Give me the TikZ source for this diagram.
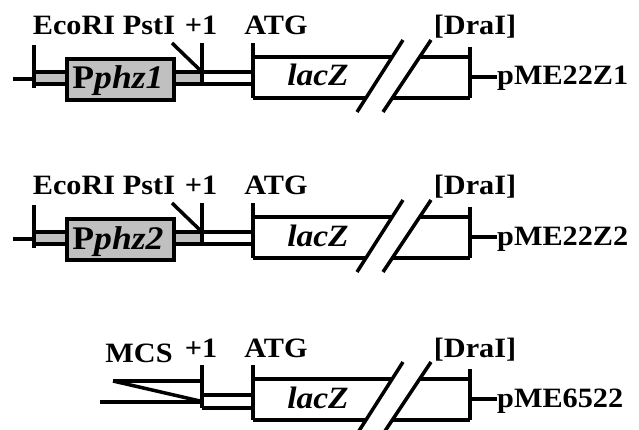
\documentclass[tikz,border=0pt]{standalone}
\usepackage{fontspec}
\setmainfont[FakeStretch=1.08]{Liberation Serif}
\newcommand\lacZpart[1]{%
  \coordinate (atgtop) at (253,43);
  \coordinate (atgbot) at (253,98);
  \coordinate (ztl) at (253,57);
  \coordinate (t1) at (391,57);
  \coordinate (b1) at (367,98);
  \coordinate (t2) at (420,57);
  \coordinate (b2) at (392,98);
  \coordinate (drtop) at (470,47);
  \coordinate (drbot) at (470,98);
  \coordinate (drmid) at (470,77);
  \coordinate (s1a) at (357,112);
  \coordinate (s1b) at (403,40);
  \coordinate (s2a) at (383,112);
  \coordinate (s2b) at (431,40);
  \draw[ln] (atgtop) -- (atgbot);
  \draw[ln] (ztl) -- (t1);
  \draw[ln] (atgbot) -- (b1);
  \draw[ln] (t2) -- (drtop |- t2);
  \draw[ln] (b2) -- (drbot);
  \draw[ln] (drtop) -- (drbot);
  \draw[slash] (s1a) -- (s1b);
  \draw[slash] (s2a) -- (s2b);
  \node[lbl] (atg) at (276,35) {ATG};
  \node[lbl] (dra) at (475,35) {[DraI]};
  \node[lbl, font=\fontsize{31}{33}\selectfont\bfseries\itshape] (lacz) at (318,86) {lacZ};
  \node[lbl, anchor=base west] (name) at (497,85) {#1};
  \draw[ln] (drmid) -- (name.west |- drmid);
}
\newcommand\promoterpart[1]{%
  \coordinate (stub) at (13,79);
  \coordinate (ecotop) at (34,45);
  \coordinate (ecobot) at (34,88);
  \coordinate (plustop) at (202,43);
  \coordinate (plusbot) at (202,84);
  \coordinate (diag) at (172,43);
  \coordinate (dtop) at (202,72);
  \coordinate (dbot) at (202,84);
  \draw[ln, fill=boxgray] (34,72) rectangle (202,84);
  \draw[ln] (stub) -- (stub -| ecotop);
  \draw[ln] (ecotop) -- (ecobot);
  \draw[ln] (plustop) -- (plusbot);
  \draw[ln] (diag) -- (dtop);
  \draw[ln] (dtop) -- (dtop -| atgtop);
  \draw[ln] (dbot) -- (dbot -| atgtop);
  \node[ln, draw, fill=boxgray, minimum width=107pt, minimum height=41pt, inner sep=0pt] (prom) at (120.5,79.5) {};
  \node[lbl, font=\fontsize{33}{35}\selectfont\bfseries] (promlbl) at (118,89) {P\textit{#1}};
  \node[lbl] (eco) at (74,35) {EcoRI};
  \node[lbl] (pst) at (149,35) {PstI};
  \node[lbl] (plus) at (201,35) {+1};
}
\begin{document}
\begin{tikzpicture}[x=1pt,y=-1pt,
  ln/.style={line width=3.5pt},
  slash/.style={line width=3.5pt},
  lbl/.style={font=\fontsize{28}{30}\selectfont\bfseries, inner sep=0pt, anchor=base}]
\definecolor{boxgray}{RGB}{192,192,192}
\useasboundingbox (0,0) rectangle (639,430);
\begin{scope}[name prefix=r1-]
  \lacZpart{pME22Z1}
  \promoterpart{phz1}
\end{scope}
\begin{scope}[shift={(0,160)}, name prefix=r2-]
  \lacZpart{pME22Z2}
  \promoterpart{phz2}
\end{scope}
\begin{scope}[shift={(0,322)}, name prefix=r3-]
  \lacZpart{pME6522}
  \coordinate (up) at (113,59);
  \coordinate (lo) at (100,80);
  \coordinate (plustop) at (202,43);
  \coordinate (plusbot) at (202,86);
  \coordinate (dtop) at (202,73);
  \coordinate (dbot) at (202,86);
  \draw[ln] (up) -- (up -| plustop);
  \draw[ln] (lo) -- (lo -| plustop);
  \draw[ln] (up) -- (200,79);
  \draw[ln] (plustop) -- (plusbot);
  \draw[ln] (dtop) -- (dtop -| atgtop);
  \draw[ln] (dbot) -- (dbot -| atgtop);
  \node[lbl] (mcs) at (139,40) {MCS};
  \node[lbl] (plus) at (201,35) {+1};
\end{scope}
\end{tikzpicture}
\end{document}
